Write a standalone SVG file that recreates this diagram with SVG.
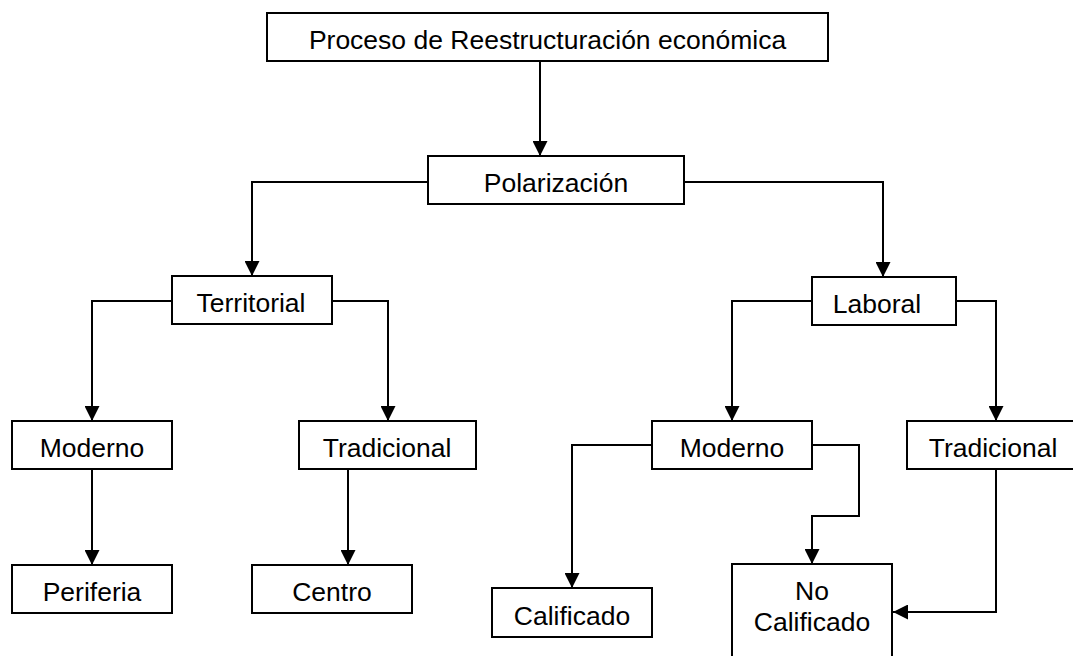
<svg xmlns="http://www.w3.org/2000/svg" width="1073" height="656" viewBox="0 0 1073 656">
<style>
.box{fill:#fff;stroke:#000;stroke-width:2}
.lbl{font-family:"Liberation Sans",Arial,sans-serif;font-size:26.5px;fill:#000;text-anchor:middle}
.con{fill:none;stroke:#000;stroke-width:2}
</style>
<defs>
<marker id="ah" markerUnits="userSpaceOnUse" markerWidth="15" markerHeight="15" viewBox="0 0 15 15" refX="15" refY="7.5" orient="auto">
<path d="M0,0 L15,7.5 L0,15 z" fill="#000"/>
</marker>
</defs>
<rect width="1073" height="656" fill="#fff"/>
<g id="connectors">
<path class="con" d="M540,61 V156" marker-end="url(#ah)"/>
<path class="con" d="M428,182 H252 V276" marker-end="url(#ah)"/>
<path class="con" d="M684,182 H883 V277" marker-end="url(#ah)"/>
<path class="con" d="M172,301 H92 V421" marker-end="url(#ah)"/>
<path class="con" d="M332,301 H388 V421" marker-end="url(#ah)"/>
<path class="con" d="M92,469 V565" marker-end="url(#ah)"/>
<path class="con" d="M348,469 V565" marker-end="url(#ah)"/>
<path class="con" d="M812,301 H732 V421" marker-end="url(#ah)"/>
<path class="con" d="M956,301 H996 V421" marker-end="url(#ah)"/>
<path class="con" d="M652,445 H572 V588" marker-end="url(#ah)"/>
<path class="con" d="M812,445 H859 V516 H812 V564" marker-end="url(#ah)"/>
<path class="con" d="M996,469 V612 H893" marker-end="url(#ah)"/>
</g>
<g id="proceso"><rect class="box" x="267" y="13" width="561" height="48"/><text class="lbl" x="547.5" y="49">Proceso de Reestructuración económica</text></g>
<g id="polarizacion"><rect class="box" x="428" y="156" width="256" height="48"/><text class="lbl" x="556" y="192">Polarización</text></g>
<g id="territorial"><rect class="box" x="172" y="276" width="160" height="48"/><text class="lbl" x="251" y="312">Territorial</text></g>
<g id="laboral"><rect class="box" x="812" y="277" width="144" height="48"/><text class="lbl" x="877" y="313">Laboral</text></g>
<g id="moderno-t"><rect class="box" x="12" y="421" width="160" height="48"/><text class="lbl" x="92" y="457">Moderno</text></g>
<g id="tradicional-t"><rect class="box" x="299" y="421" width="177" height="48"/><text class="lbl" x="387" y="457">Tradicional</text></g>
<g id="periferia"><rect class="box" x="12" y="565" width="160" height="48"/><text class="lbl" x="92" y="601">Periferia</text></g>
<g id="centro"><rect class="box" x="252" y="565" width="160" height="48"/><text class="lbl" x="332" y="601">Centro</text></g>
<g id="moderno-l"><rect class="box" x="652" y="421" width="160" height="48"/><text class="lbl" x="732" y="457">Moderno</text></g>
<g id="tradicional-l"><rect class="box" x="907" y="421" width="183" height="48"/><text class="lbl" x="993" y="457">Tradicional</text></g>
<g id="calificado"><rect class="box" x="492" y="588" width="160" height="49"/><text class="lbl" x="572" y="625">Calificado</text></g>
<g id="no-calificado"><rect class="box" x="732" y="564" width="160" height="110"/><text class="lbl" x="812" y="600">No</text><text class="lbl" x="812" y="631">Calificado</text></g>
</svg>
